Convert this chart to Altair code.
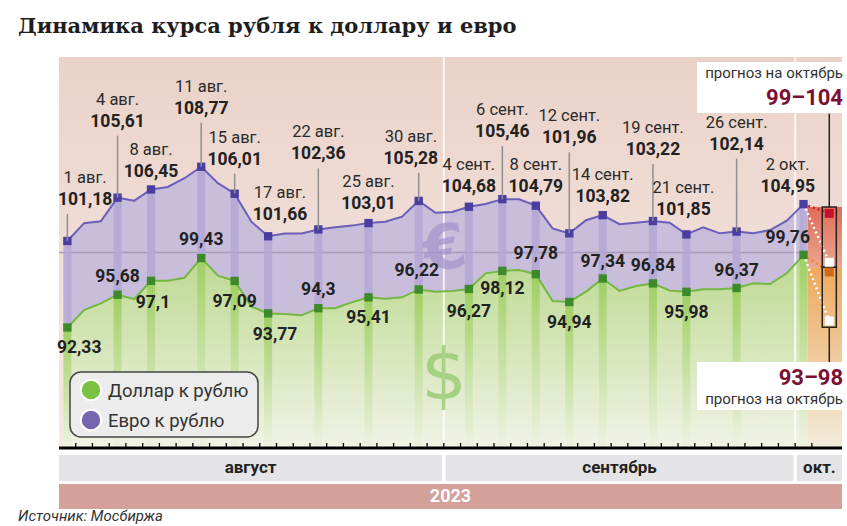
import altair as alt
import pandas as pd

# ---------------- data ----------------
days = ["1 авг.", "2 авг.", "3 авг.", "4 авг.", "7 авг.", "8 авг.", "9 авг.", "10 авг.", "11 авг.",
        "14 авг.", "15 авг.", "16 авг.", "17 авг.", "18 авг.", "21 авг.", "22 авг.", "23 авг.",
        "24 авг.", "25 авг.", "28 авг.", "29 авг.", "30 авг.", "31 авг.",
        "1 сент.", "4 сент.", "5 сент.", "6 сент.", "7 сент.", "8 сент.", "11 сент.", "12 сент.",
        "13 сент.", "14 сент.", "15 сент.", "18 сент.", "19 сент.", "20 сент.", "21 сент.",
        "22 сент.", "25 сент.", "26 сент.", "27 сент.", "28 сент.", "29 сент.", "2 окт."]
euro = [101.18, 103.0, 103.2, 105.61, 105.3, 106.45, 106.7, 107.6, 108.77, 107.1, 106.01, 103.15,
        101.66, 101.95, 101.95, 102.36, 102.58, 102.75, 103.01, 103.15, 103.67, 105.28, 104.07,
        104.14, 104.68, 104.96, 105.46, 105.44, 104.79, 102.47, 101.96, 103.3, 103.82, 102.9,
        103.05, 103.22, 103.05, 101.85, 102.57, 101.96, 102.14, 101.96, 102.3, 103.25, 104.95]
usd = [92.33, 94.12, 94.8, 95.68, 95.24, 97.1, 97.12, 97.42, 99.43, 97.63, 97.09, 94.46, 93.77,
       93.71, 93.57, 94.3, 94.29, 94.9, 95.41, 95.28, 95.41, 96.22, 95.99, 96.06, 96.27, 97.87,
       98.12, 98.2, 97.78, 95.04, 94.94, 96.0, 97.34, 96.06, 96.57, 96.84, 96.1, 95.98, 96.23,
       96.23, 96.37, 96.85, 96.78, 97.87, 99.76]
marked = [0, 3, 5, 8, 10, 12, 15, 18, 21, 24, 26, 28, 30, 32, 35, 37, 40, 44]
forecast_euro = [99, 104]
forecast_usd = [93, 98]
months = ["август", "сентябрь", "окт."]
year = "2023"
title = "Динамика курса рубля к доллару и евро"
source = "Источник: Мосбиржа"
legend_labels = ["Доллар к рублю", "Евро к рублю"]
forecast_note = "прогноз на октябрь"

# ---------------- layout (pixels) ----------------
W, H = 793, 391
X0, X1 = -0.5, 46.3
Y0, Y1 = 80, 120
XPX = W / (X1 - X0)
YPX = H / (Y1 - Y0)
euro_lift = [41, 76, 17.5, 58, 34, 21, 75, 19, 42, 20, 67, 19, 95, 18, 71, 24, 87, 17]
euro_dx = [18, 0, 0, 0, 0, 12, 0, 0, -8, 0, 0, 0, 0, 0, 0, -3, 0, -16]
usd_drop = [20.5, -18, 22, -18, 21, 22, -18, 21, -18, 23, 18, -20, 21, -17, -17, 21, -17, -17]
usd_dx = [12, 0, 2, 0, 0, 7, 0, 0, -2, 0, 0, 0, 0, 0, 0, 0, 0, -16]
FX = 45.54  # forecast column

NARROW = "Roboto"

xs = alt.Scale(domain=[X0, X1], nice=False, zero=False)
ys = alt.Scale(domain=[Y0, Y1], nice=False, zero=False)

def X(f):
    return alt.X(f, type="quantitative", scale=xs, axis=None)

def Y(f):
    return alt.Y(f, type="quantitative", scale=ys, axis=None)

def grad(c1, c2, vertical=True):
    return alt.Gradient(gradient="linear",
                        stops=[alt.GradientStop(color=c1, offset=0), alt.GradientStop(color=c2, offset=1)],
                        x1=0, x2=0 if vertical else 1, y1=0, y2=1 if vertical else 0)

def fmt(v):
    return str(v).replace(".", ",")

df = pd.DataFrame({"i": list(range(len(days))), "euro": euro, "usd": usd, "base": 80})

rows = []
for k, i in enumerate(marked):
    e, u = euro[i], usd[i]
    ev_y = e + euro_lift[k] / YPX
    rows.append(dict(i=i, euro=e, usd=u, base=80,
                     date=days[i], etxt=fmt(e), utxt=fmt(u),
                     ex=i + euro_dx[k] / XPX, ev=ev_y, ed=ev_y + 22 / YPX,
                     lead=(ev_y - 14 / YPX) if euro_lift[k] > 30 else e,
                     has_lead=euro_lift[k] > 30,
                     ux=i + usd_dx[k] / XPX, uv=u - usd_drop[k] / YPX))
lab = pd.DataFrame(rows)

# background
bg = alt.Chart(pd.DataFrame({"a": [X0], "b": [X1], "c": [Y0], "d": [Y1]})).mark_rect(
    color=grad("#ebd2c8", "#f4e9e5")).encode(
    x=X("a"), x2="b",
    y=alt.Y("c:Q", scale=ys, axis=alt.Axis(values=[80, 100, 120], grid=False, domainColor="black",
                                          domainWidth=3, tickColor="black", tickWidth=2.5, tickSize=6,
                                          labelFont=NARROW, labelFontStyle="italic", labelFontSize=18,
                                          labelColor="#333", labelPadding=1, title=None)),
    y2="d")

euro_area = alt.Chart(df).mark_area(color="#c8bdda").encode(x=X("i"), y=Y("euro"), y2="base")
usd_area = alt.Chart(df).mark_area(color=grad("#bcd990", "#f1f3e6")).encode(x=X("i"), y=Y("usd"), y2="base")

rule100 = alt.Chart(pd.DataFrame({"y": [100], "a": [X0], "b": [X1]})).mark_rule(
    color="#a49bb6", strokeWidth=1.5).encode(y=Y("y"), x=X("a"), x2="b")

seps = alt.Chart(pd.DataFrame({"x": [22.5, 43.5], "a": [Y0, Y0], "b": [Y1, Y1]})).mark_rule(
    color="white", strokeWidth=2, opacity=0.8).encode(x=X("x"), y=Y("a"), y2="b")

fc = pd.DataFrame({"a": [44.25, 44.25], "b": [X1, X1],
                   "lo": [(forecast_euro[0] + forecast_usd[1]) / 2, Y0],
                   "hi": [forecast_euro[1] + 0.65, (forecast_euro[0] + forecast_usd[1]) / 2]})
red_rect = alt.Chart(fc.iloc[[0]]).mark_rect(color=grad("#df6c58", "#eba58f")).encode(
    x=X("a"), x2="b", y=Y("lo"), y2="hi")
org_rect = alt.Chart(fc.iloc[[1]]).mark_rect(color=grad("#eea95e", "#f2ecdc")).encode(
    x=X("a"), x2="b", y=Y("lo"), y2="hi")

def txt(s, x, y, **kw):
    return alt.Chart(pd.DataFrame({"t": [s]})).mark_text(**kw).encode(
        x=alt.value(x), y=alt.value(y), text="t:N")

euro_sym = txt("€", 391, 193, font="DejaVu Sans", fontWeight="bold", fontSize=62,
               color="#a293cb", opacity=0.7, baseline="middle", align="center", angle=350)
usd_sym = txt("$", 390, 320, font="DejaVu Sans", fontSize=72,
              color="#97cb72", opacity=0.8, baseline="middle", align="center")

pbars = alt.Chart(lab).mark_bar(size=8, color="#b3a7d6", opacity=0.85).encode(
    x=X("i"), y=Y("euro"), y2="usd")
gbars = alt.Chart(lab).mark_bar(size=8, color=grad("#9fcf62", "#eef2e2")).encode(
    x=X("i"), y=Y("usd"), y2="base")

euro_line = alt.Chart(df).mark_line(color="#6a5eb8", strokeWidth=2).encode(x=X("i"), y=Y("euro"))
usd_line = alt.Chart(df).mark_line(color="#74b843", strokeWidth=2).encode(x=X("i"), y=Y("usd"))

last = len(days) - 1
dots = pd.DataFrame({
    "g": ["a", "a", "b", "b", "c", "c", "d", "d"],
    "x": [last, FX] * 4,
    "y": [euro[last], forecast_euro[1], euro[last], forecast_euro[0],
          usd[last], forecast_usd[1], usd[last], forecast_usd[0]],
    "c": ["#d2232a", "#d2232a", "white", "white", "#ee8a2a", "#ee8a2a", "white", "white"]})
dotted = alt.Chart(dots).mark_line(strokeDash=[2, 3], strokeWidth=2.5).encode(
    x=X("x"), y=Y("y"), detail="g:N", color=alt.Color("c:N", scale=None))

box = pd.DataFrame({"a": [FX - 0.42, FX - 0.42], "b": [FX + 0.42, FX + 0.42],
                    "lo": [(forecast_euro[0] + forecast_usd[1]) / 2, forecast_usd[0] - 0.65],
                    "hi": [forecast_euro[1] + 0.65, (forecast_euro[0] + forecast_usd[1]) / 2]})
boxes = alt.Chart(box).mark_rect(fillOpacity=0, stroke="#222", strokeWidth=1.5).encode(
    x=X("a"), x2="b", y=Y("lo"), y2="hi")
vl = pd.DataFrame({"x": [FX, FX], "a": [forecast_euro[1] + 0.65, forecast_usd[0] - 0.65],
                   "b": [Y1 - 5.8, Y0 + 8.8]})
vlines = alt.Chart(vl).mark_rule(color="#222", strokeWidth=1.5).encode(x=X("x"), y=Y("a"), y2="b")

fm = pd.DataFrame({"x": [FX] * 4,
                   "y": [forecast_euro[1], forecast_euro[0], forecast_usd[1], forecast_usd[0]],
                   "c": ["#c8102e", "white", "#cf6a1c", "white"]})
fmarks = alt.Chart(fm).mark_square(size=80, opacity=1).encode(
    x=X("x"), y=Y("y"), color=alt.Color("c:N", scale=None))

emark = alt.Chart(lab).mark_square(size=70, color="#4a3f9f", opacity=1).encode(x=X("i"), y=Y("euro"))
umark = alt.Chart(lab).mark_square(size=70, color="#3d8a2b", opacity=1).encode(x=X("i"), y=Y("usd"))

leads = alt.Chart(lab[lab["has_lead"]]).mark_rule(color="#8f8f8f", strokeWidth=1.5).encode(
    x=X("i"), y=Y("euro"), y2="lead")

edate = alt.Chart(lab).mark_text(font=NARROW, fontSize=16.5, color="#2a2a2a", baseline="middle").encode(
    x=X("ex"), y=Y("ed"), text="date:N")
eval_ = alt.Chart(lab).mark_text(font=NARROW, fontSize=17.5, fontWeight="bold", color="#222",
                                 baseline="middle").encode(x=X("ex"), y=Y("ev"), text="etxt:N")
uval = alt.Chart(lab).mark_text(font=NARROW, fontSize=17.5, fontWeight="bold", color="#222",
                                baseline="middle").encode(x=X("ux"), y=Y("uv"), text="utxt:N")

def prect(x, y, x2, y2, **kw):
    return alt.Chart(pd.DataFrame({"k": [0]})).mark_rect(**kw).encode(
        x=alt.value(x), x2=alt.value(x2), y=alt.value(y), y2=alt.value(y2))

note_top = prect(643, 5, 793, 56, color="white")
note_bot = prect(643, 305, 793, 353, color="white")
nt1 = txt(forecast_note, 789, 16, font=NARROW, fontSize=15, color="#333", align="right", baseline="middle")
nt2 = txt(f"{forecast_euro[0]}–{forecast_euro[1]}", 789, 41, font=NARROW, fontSize=22, fontWeight="bold",
          color="#7b0f33", align="right", baseline="middle")
nb1 = txt(f"{forecast_usd[0]}–{forecast_usd[1]}", 789, 321, font=NARROW, fontSize=22, fontWeight="bold",
          color="#7b0f33", align="right", baseline="middle")
nb2 = txt(forecast_note, 789, 342, font=NARROW, fontSize=15, color="#333", align="right", baseline="middle")

leg_box = prect(16, 315, 204, 380, color="#ececec", stroke="#444", strokeWidth=1.5, cornerRadius=11)
leg_pts = alt.Chart(pd.DataFrame({"y": [333, 363], "c": ["#7cc142", "#7565b2"]})).mark_circle(
    size=420, opacity=1, stroke="white", strokeWidth=2).encode(
    x=alt.value(37), y=alt.Y("y:Q", scale=None), color=alt.Color("c:N", scale=None))
leg_t1 = txt(legend_labels[0], 54, 334, font=NARROW, fontSize=18.5, color="#333", align="left",
             baseline="middle")
leg_t2 = txt(legend_labels[1], 54, 364, font=NARROW, fontSize=18.5, color="#333", align="left",
             baseline="middle")

xline = alt.Chart(pd.DataFrame({"y": [Y0], "a": [X0], "b": [X1]})).mark_rule(
    color="black", strokeWidth=3).encode(y=Y("y"), x=X("a"), x2="b")
tick_x = [k + 0.5 for k in range(len(days))]
ticks = alt.Chart(pd.DataFrame({"x": tick_x, "a": [Y0] * len(tick_x),
                                "b": [Y0 + 5 / YPX] * len(tick_x)})).mark_rule(
    color="black", strokeWidth=1.3).encode(x=X("x"), y=Y("a"), y2="b")

mb = pd.DataFrame({"m": months, "a": [X0, 22.6, 43.6], "b": [22.4, 43.4, X1],
                   "c": [(X0 + 22.4) / 2, (22.6 + 43.4) / 2, (43.6 + X1) / 2]})
mbands = alt.Chart(mb).mark_rect(color="#e4e4e6").encode(
    x=X("a"), x2="b", y=alt.value(398), y2=alt.value(424))
mtext = alt.Chart(mb).mark_text(font=NARROW, fontSize=17, fontWeight="bold", color="#222",
                                baseline="middle").encode(x=X("c"), y=alt.value(411), text="m:N")
yb = pd.DataFrame({"t": [year], "a": [X0], "b": [X1], "c": [(X0 + X1) / 2]})
yband = alt.Chart(yb).mark_rect(color="#d3a09a").encode(
    x=X("a"), x2="b", y=alt.value(427), y2=alt.value(452))
ytext = alt.Chart(yb).mark_text(font=NARROW, fontSize=18, fontWeight="bold", color="white",
                                baseline="middle").encode(x=X("c"), y=alt.value(439.5), text="t:N")

ttl = txt(title, -36, -24, font="DejaVu Serif", fontWeight="bold", fontSize=21, color="#1e1e1e",
          align="left", baseline="alphabetic")
src = txt(source, -36, 464, font=NARROW, fontStyle="italic", fontSize=15, color="#333",
          align="left", baseline="alphabetic")

chart = alt.layer(
    bg, euro_area, usd_area, rule100, seps, red_rect, org_rect, euro_sym, usd_sym,
    pbars, gbars, euro_line, usd_line, dotted, vlines, boxes, emark, umark, fmarks,
    leads, edate, eval_, uval, note_top, note_bot, nt1, nt2, nb1, nb2,
    leg_box, leg_pts, leg_t1, leg_t2, xline, ticks, mbands, mtext, yband, ytext, ttl, src
).properties(
    width=W, height=H,
    padding={"left": 54, "top": 57, "right": 0, "bottom": 78},
    autosize=alt.AutoSizeParams(type="none"),
    background="white"
).configure_view(strokeWidth=0)

chart.save("out.html", embed_options={"renderer": "svg", "actions": False})
